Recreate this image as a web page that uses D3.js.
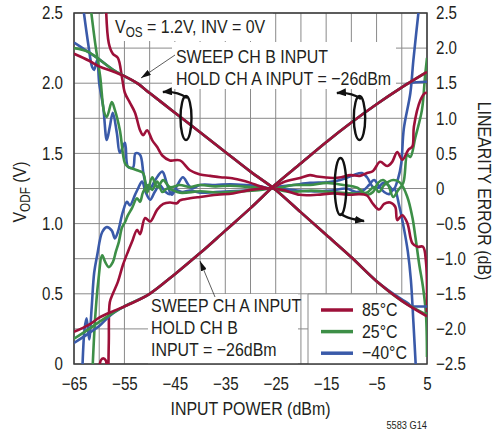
<!DOCTYPE html>
<html>
<head>
<meta charset="utf-8">
<script src="https://cdn.jsdelivr.net/npm/d3@7"></script>
<style>
  body { margin: 0; background: #fff; }
  svg text { font-family: 'Liberation Sans', Arial, sans-serif; fill: #231f20; }
</style>
</head>
<body>
<svg id="chart" width="495" height="431"></svg>
<script>
// tick labels
var powerTicks = [-65, -55, -45, -35, -25, -15, -5, 5];
var vodfTicks = [0, 0.5, 1, 1.5, 2, 2.5];
var errTicks = [2.5, 2, 1.5, 1, 0.5, 0, -0.5, -1, -1.5, -2, -2.5];
var tempLabels = ['85°C', '25°C', '−40°C'];
var tempColors = ['#9d1039', '#3d8f47', '#3a5aa9'];

// V_ODF (V) vs input power, sweep CH B (falling lines)
var sweepB85 = [[-65,2.21],[-62,2.16],[-60,2.12],[-57,2.08],[-55,2.05],[-52.5,2.0],[-50,1.93],[-45,1.79],[-40,1.65],[-35,1.51],[-30,1.37],[-25,1.24],[-20,1.08],[-15,0.92],[-10,0.76],[-5,0.59],[0,0.45],[5,0.34]];
var sweepB25 = [[-65,2.25],[-62,2.22],[-60,2.17],[-57,2.09],[-55,2.05],[-52.5,2.0],[-50,1.93],[-45,1.79],[-40,1.65],[-35,1.51],[-30,1.37],[-25,1.24],[-20,1.08],[-15,0.92],[-10,0.76],[-5,0.59],[0,0.45],[5,0.35]];
var sweepBm40 = [[-65,2.29],[-62.5,2.23],[-60,2.17],[-57,2.09],[-55,2.05],[-52.5,2.0],[-50,1.93],[-45,1.79],[-40,1.65],[-35,1.51],[-30,1.37],[-25,1.24],[-20,1.08],[-15,0.92],[-10,0.76],[-5,0.59],[0,0.46],[1.3,0.43],[2,0.41],[5,0.41]];

// V_ODF (V) vs input power, sweep CH A (rising lines)
var sweepA85 = [[-65,0.23],[-62,0.28],[-60,0.33],[-57,0.38],[-55,0.41],[-50,0.5],[-45,0.64],[-40,0.79],[-35,0.95],[-30,1.11],[-25,1.28],[-20,1.43],[-15,1.58],[-10,1.72],[-5,1.85],[0,1.97],[5,2.08]];
var sweepA25 = [[-65,0.18],[-62,0.25],[-60,0.3],[-57,0.37],[-55,0.41],[-50,0.5],[-45,0.64],[-40,0.79],[-35,0.95],[-30,1.11],[-25,1.28],[-20,1.43],[-15,1.58],[-10,1.72],[-5,1.85],[0,1.97],[5,2.08]];
var sweepAm40 = [[-65,0.15],[-62,0.22],[-60,0.27],[-58,0.34],[-56,0.39],[-55,0.41],[-50,0.5],[-45,0.64],[-40,0.79],[-35,0.95],[-30,1.11],[-25,1.28],[-20,1.43],[-15,1.58],[-10,1.72],[-5,1.85],[0,1.97],[1.3,2.0],[5,2.01]];

// linearity error (dB), two curves per temperature
var err85Hi = [[-58.7,2.7],[-58.1,2.07],[-57.3,1.92],[-56.3,1.86],[-55.5,1.59],[-54.9,1.36],[-53.9,1.22],[-52.9,1.08],[-51.9,0.83],[-51.3,0.76],[-50.5,0.83],[-49.5,0.69],[-48.5,0.59],[-47.5,0.47],[-46,0.4],[-44,0.4],[-42,0.26],[-40,0.2],[-38,0.18],[-36,0.16],[-34,0.15],[-32,0.12],[-30,0.08],[-28,0.03],[-26,0],[-23.5,0.09],[-20.2,0.15],[-18.2,0.19],[-16.8,0.17],[-13.6,0.15],[-12,0.16],[-10.2,0.19],[-8.3,0.18],[-6.9,0.22],[-5.7,0.25],[-4.3,0.38],[-2.9,0.32],[-1.9,0.38],[-0.9,0.52],[0.1,0.41],[1.3,0.55],[2.1,0.6],[2.4,0.88],[3.7,1.26],[4.6,1.36],[5,1.36]];
var err85Lo = [[-60,-2.7],[-59.7,-2.45],[-59.2,-2.42],[-58.7,-2.45],[-58.3,-2.7],[-58.1,-2.2],[-57.9,-1.62],[-57.3,-1.5],[-56.3,-1.33],[-55.3,-1.09],[-54.3,-0.9],[-53.5,-0.76],[-52.5,-0.59],[-51.9,-0.65],[-50.9,-0.42],[-49.9,-0.47],[-48.5,-0.3],[-47.3,-0.22],[-46,-0.2],[-44.6,-0.21],[-44,-0.17],[-42,-0.14],[-40,-0.12],[-36.6,-0.09],[-33.5,-0.07],[-30,-0.02],[-26,0],[-23.5,-0.02],[-20.2,-0.09],[-16.8,-0.09],[-13.6,-0.07],[-10.2,-0.09],[-8.5,-0.08],[-6.9,-0.1],[-5.7,-0.22],[-4.5,-0.3],[-3.5,-0.22],[-2.3,-0.2],[-1.3,-0.26],[-0.9,-0.45],[0.1,-0.38],[1.1,-0.49],[2.1,-0.78],[3.1,-0.83],[4.2,-0.83],[4.8,-1.05],[5,-1.76]];
var err25Hi = [[-61.9,2.7],[-60.8,2.07],[-59.8,1.59],[-59,1.08],[-58.5,1.02],[-57.5,1.23],[-56.9,1.12],[-55.9,0.83],[-54.9,0.36],[-54.3,0.31],[-52.5,0.26],[-51.3,0.22],[-50.5,-0.06],[-49.5,0.16],[-48.5,0.02],[-47.3,0.12],[-46,0.02],[-44,0.05],[-42,0.02],[-40,0.05],[-37,0.03],[-34,0.04],[-30,0.02],[-28,0.01],[-26,0],[-24.1,0.01],[-21.5,0.05],[-18.2,0.05],[-14.8,0.08],[-11.6,0.05],[-8.8,0.01],[-6.9,-0.09],[-5.7,-0.05],[-4.7,0.08],[-3.7,0.12],[-2.7,0.05],[-1.7,-0.12],[-0.7,-0.02],[0.3,0.08],[1.1,0.48],[1.7,0.45],[2.7,0.73],[4,1.12],[4.6,1.59],[5,1.86]];
var err25Lo = [[-61.4,-2.7],[-60.8,-1.84],[-60.2,-1.33],[-59.4,-0.95],[-58.8,-1.05],[-58.1,-1.12],[-57.3,-1.05],[-56.7,-0.9],[-56.1,-0.76],[-55.5,-0.56],[-54.9,-0.48],[-54.3,-0.38],[-53.5,-0.28],[-52.5,-0.14],[-51.9,-0.19],[-51.3,-0.05],[-50.3,0.05],[-49.5,-0.02],[-48.5,0.1],[-47.5,-0.05],[-46.5,0],[-44,-0.06],[-40,-0.04],[-36,-0.06],[-32,-0.04],[-28,-0.02],[-26,0],[-22,-0.05],[-18,-0.03],[-14,-0.05],[-10,-0.07],[-7,-0.06],[-5.5,0.02],[-4.5,-0.05],[-3.5,0.05],[-1.7,0.12],[-0.3,0.08],[1.1,-0.12],[2.1,-0.41],[2.7,-0.69],[3.5,-1.1],[4.2,-1.4],[4.8,-1.8],[5,-2.4]];
var errm40Hi = [[-63.4,2.7],[-62.2,2.07],[-61.4,1.73],[-61,1.69],[-60.4,1.83],[-60,1.5],[-59.2,1.16],[-58.5,0.69],[-57.9,0.88],[-57.3,1.08],[-56.5,0.79],[-55.9,0.51],[-54.9,0.65],[-54.3,0.31],[-53.3,0.3],[-52.8,0.5],[-51.9,0.48],[-51.2,0.2],[-50.5,0.02],[-49.9,0],[-48.9,0.12],[-47.5,0.24],[-46.5,0.05],[-45.6,-0.09],[-44.5,0.05],[-43.4,0.16],[-42.4,0.06],[-41.6,0],[-40,0.05],[-37,0.05],[-34,0.06],[-31,0.05],[-28,0.03],[-26,0],[-24,0.03],[-21.5,0.05],[-18.2,0.08],[-14.8,0.09],[-12.2,0.12],[-9.6,0.19],[-7.9,0.22],[-6.9,0.16],[-5.7,0.02],[-4.7,0.01],[-3.7,0.08],[-2.7,0.05],[-1.7,-0.02],[-0.7,0.15],[-0.1,0.36],[0.4,0.85],[1.7,1.36],[2.3,1.83],[3.6,2.7]];
var errm40Lo = [[-63.4,-2.7],[-62.9,-2],[-62.5,-1.85],[-62,-2.15],[-61.5,-1.7],[-61,-1.2],[-60.4,-0.95],[-59.4,-0.62],[-58.5,-0.55],[-57.5,-0.6],[-56.9,-0.71],[-56.3,-0.62],[-55.3,-0.33],[-54.5,-0.19],[-53.9,-0.24],[-52.9,-0.09],[-52.3,0],[-51.5,0.1],[-50.8,-0.05],[-49.9,-0.16],[-49,-0.05],[-48,0.05],[-47,-0.04],[-46,-0.08],[-45,-0.02],[-43.5,-0.05],[-42,-0.03],[-40,-0.06],[-37,-0.05],[-34,-0.04],[-31,-0.03],[-28,-0.01],[-26,0],[-22,-0.02],[-18,-0.04],[-14,-0.03],[-11,0],[-9,-0.05],[-7.5,-0.02],[-6.5,0.05],[-5.5,0.12],[-4.5,0.03],[-3.5,-0.05],[-2.5,-0.08],[-1.5,0],[-0.5,-0.25],[0.5,-0.6],[1.2,-0.9],[1.8,-1.3],[2.3,-1.9],[2.9,-2.7]];

var svg = d3.select('#chart');
var pLeft = 74, pRight = 427, pTop = 13, pBottom = 364;
var NARROW = 0.84; // no condensed face installed, so glyphs get squeezed

// squeeze a text horizontally round its own anchor point
function squeeze(sel) {
  sel.each(function() {
    var t = d3.select(this);
    var ax = +t.attr('x') || 0;
    var prev = t.attr('transform') || '';
    t.attr('transform', prev + ' matrix(' + NARROW + ',0,0,1,' + ((1 - NARROW) * ax) + ',0)');
  });
}

var x = d3.scaleLinear().domain([-65, 5]).range([pLeft, pRight]);
var yL = d3.scaleLinear().domain([0, 2.5]).range([pBottom, pTop]);
var yR = d3.scaleLinear().domain([-2.5, 2.5]).range([pBottom, pTop]);

// grid
var grid = svg.append('g').attr('stroke', '#8a8a8a').attr('stroke-width', 1);
grid.selectAll('line.v').data(d3.range(-65, 6, 5)).enter().append('line')
  .attr('x1', function(d) { return x(d); }).attr('x2', function(d) { return x(d); })
  .attr('y1', pTop).attr('y2', pBottom);
grid.selectAll('line.h').data(d3.range(0, 2.51, 0.25)).enter().append('line')
  .attr('x1', pLeft).attr('x2', pRight)
  .attr('y1', function(d) { return yL(d); }).attr('y2', function(d) { return yL(d); });

// white boxes behind the notes and the legend
var boxes = [[103, 13, 170, 28], [172, 42, 224, 47], [148, 294, 150, 70], [308, 294, 119, 70]];
svg.selectAll('rect.box').data(boxes).enter().append('rect')
  .attr('x', function(d) { return d[0]; }).attr('y', function(d) { return d[1]; })
  .attr('width', function(d) { return d[2]; }).attr('height', function(d) { return d[3]; })
  .attr('fill', '#fff');
svg.append('path').attr('d', 'M308,364V294H427').attr('fill', 'none').attr('stroke', '#8a8a8a');

// frame
svg.append('rect').attr('x', pLeft).attr('y', pTop).attr('width', pRight - pLeft).attr('height', pBottom - pTop)
  .attr('fill', 'none').attr('stroke', '#3a3a3a').attr('stroke-width', 1.5);

svg.append('clipPath').attr('id', 'plotclip').append('rect')
  .attr('x', pLeft).attr('y', pTop).attr('width', pRight - pLeft).attr('height', pBottom - pTop);

var lineL = d3.line().x(function(d) { return x(d[0]); }).y(function(d) { return yL(d[1]); }).curve(d3.curveMonotoneX);
var lineR = d3.line().x(function(d) { return x(d[0]); }).y(function(d) { return yR(d[1]); }).curve(d3.curveCatmullRom.alpha(0.5));

var series = [
  { data: errm40Hi, t: 2, line: lineR }, { data: errm40Lo, t: 2, line: lineR },
  { data: err25Hi, t: 1, line: lineR }, { data: err25Lo, t: 1, line: lineR },
  { data: err85Hi, t: 0, line: lineR }, { data: err85Lo, t: 0, line: lineR },
  { data: sweepBm40, t: 2, line: lineL }, { data: sweepAm40, t: 2, line: lineL },
  { data: sweepB25, t: 1, line: lineL }, { data: sweepA25, t: 1, line: lineL },
  { data: sweepB85, t: 0, line: lineL }, { data: sweepA85, t: 0, line: lineL }
];

svg.append('g').attr('clip-path', 'url(#plotclip)')
  .selectAll('path').data(series).enter().append('path')
  .attr('d', function(s) { return s.line(s.data); })
  .attr('fill', 'none')
  .attr('stroke', function(s) { return tempColors[s.t]; })
  .attr('stroke-width', 2.6)
  .attr('stroke-linejoin', 'round');

// axes
function clean(g) {
  g.attr('font-size', 18);
  g.select('.domain').remove();
  g.selectAll('text').call(squeeze);
}
svg.append('g').attr('transform', 'translate(0,' + pBottom + ')')
  .call(d3.axisBottom(x).tickValues(powerTicks).tickSize(0).tickPadding(13).tickFormat(d3.format('d')))
  .call(clean);
svg.append('g').attr('transform', 'translate(' + pLeft + ',0)')
  .call(d3.axisLeft(yL).tickValues(vodfTicks).tickSize(0).tickPadding(11)
    .tickFormat(function(d) { return d === 0 ? '0' : d3.format('.1f')(d); }))
  .call(clean);
svg.append('g').attr('transform', 'translate(' + pRight + ',0)')
  .call(d3.axisRight(yR).tickValues(errTicks).tickSize(0).tickPadding(9)
    .tickFormat(function(d) { return d === 0 ? '0' : d3.format('.1f')(d); }))
  .call(clean);

// axis titles
svg.append('text').attr('x', (pLeft + pRight) / 2).attr('y', 415).attr('text-anchor', 'middle')
  .attr('font-size', 19).text('INPUT POWER (dBm)').call(squeeze);
var yt = svg.append('text').attr('transform', 'translate(26,192) rotate(-90)').attr('text-anchor', 'middle').attr('font-size', 19);
yt.append('tspan').text('V');
yt.append('tspan').attr('font-size', 14).attr('dy', 4).text('ODF');
yt.append('tspan').attr('dy', -4).text(' (V)');
yt.call(squeeze);
svg.append('text').attr('transform', 'translate(478,191) rotate(90)').attr('text-anchor', 'middle')
  .attr('font-size', 19).text('LINEARITY ERROR (dB)').call(squeeze);
svg.append('text').attr('x', 427).attr('y', 429).attr('text-anchor', 'end').attr('font-size', 11)
  .text('5583 G14').call(squeeze);

// notes
var vos = svg.append('text').attr('x', 115).attr('y', 33).attr('font-size', 19);
vos.append('tspan').text('V');
vos.append('tspan').attr('font-size', 14).attr('dy', 4).text('OS');
vos.append('tspan').attr('dy', -4).text(' = 1.2V, INV = 0V');
vos.call(squeeze);

var notes = [
  ['SWEEP CH B INPUT', 176, 63], ['HOLD CH A INPUT = −26dBm', 176, 85],
  ['SWEEP CH A INPUT', 151, 312], ['HOLD CH B', 151, 334], ['INPUT = −26dBm', 151, 356]
];
svg.selectAll('text.note').data(notes).enter().append('text').attr('class', 'note')
  .attr('x', function(d) { return d[1]; }).attr('y', function(d) { return d[2]; })
  .attr('font-size', 19).text(function(d) { return d[0]; })
  .call(squeeze);

// arrowheads
var defs = svg.append('defs');
defs.append('marker').attr('id', 'thin').attr('viewBox', '0 0 10 6').attr('refX', 10).attr('refY', 3)
  .attr('markerWidth', 10).attr('markerHeight', 6).attr('markerUnits', 'userSpaceOnUse').attr('orient', 'auto')
  .append('path').attr('d', 'M0,0L10,3L0,6Z').attr('fill', '#111');
defs.append('marker').attr('id', 'thick').attr('viewBox', '0 0 10 8').attr('refX', 9).attr('refY', 4)
  .attr('markerWidth', 10).attr('markerHeight', 8).attr('markerUnits', 'userSpaceOnUse').attr('orient', 'auto')
  .append('path').attr('d', 'M0,0L10,4L0,8Z').attr('fill', '#111');

svg.append('path').attr('d', 'M175,55L141,78').attr('stroke', '#333').attr('stroke-width', 0.8)
  .attr('fill', 'none').attr('marker-end', 'url(#thin)');
svg.append('path').attr('d', 'M215,297L200,261').attr('stroke', '#333').attr('stroke-width', 0.8)
  .attr('fill', 'none').attr('marker-end', 'url(#thin)');

var ellipses = [[186, 118, 5.5, 22], [359.5, 118, 5.7, 22], [340.5, 186.5, 5.8, 28.5]];
svg.selectAll('ellipse').data(ellipses).enter().append('ellipse')
  .attr('cx', function(d) { return d[0]; }).attr('cy', function(d) { return d[1]; })
  .attr('rx', function(d) { return d[2]; }).attr('ry', function(d) { return d[3]; })
  .attr('fill', 'none').attr('stroke', '#111').attr('stroke-width', 2.4);

var arrows = ['M187,98Q177,91 163,92', 'M361,99Q351,92 337,93', 'M341,213Q343,218 364,221'];
svg.selectAll('path.arrow').data(arrows).enter().append('path').attr('class', 'arrow')
  .attr('d', function(d) { return d; }).attr('fill', 'none').attr('stroke', '#111')
  .attr('stroke-width', 2.4).attr('marker-end', 'url(#thick)');

// legend
var legend = svg.append('g').selectAll('g').data(tempLabels).enter().append('g')
  .attr('transform', function(d, i) { return 'translate(0,' + (310 + i * 21.6) + ')'; });
legend.append('line').attr('x1', 321).attr('x2', 353)
  .attr('stroke', function(d, i) { return tempColors[i]; }).attr('stroke-width', 3.5);
legend.append('text').attr('x', 362).attr('y', 6).attr('font-size', 19).text(function(d) { return d; })
  .call(squeeze);
</script>
</body>
</html>
